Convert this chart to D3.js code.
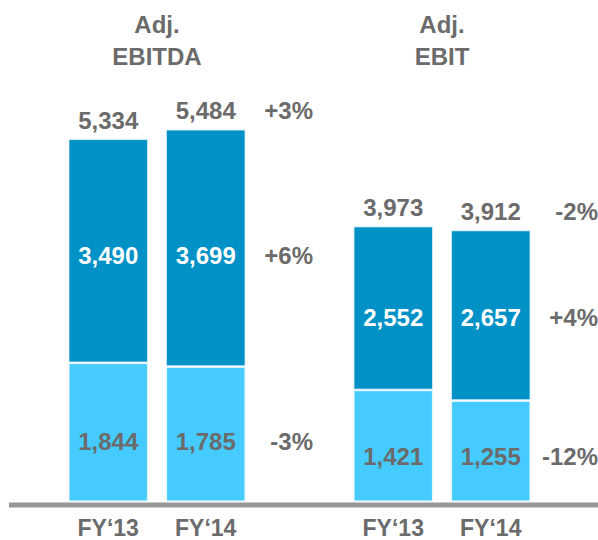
<!DOCTYPE html>
<html>
<head>
<meta charset="utf-8">
<script src="https://cdn.jsdelivr.net/npm/d3@7"></script>
<style>
  body { margin: 0; background: #fff; }
  svg { display: block; font-family: "Liberation Sans", Arial, sans-serif; font-weight: bold; }
</style>
</head>
<body>
<div id="chart"></div>
<script>
// values (EUR m)
var groups = ['EBITDA', 'EBIT'],
    groupTitles = [['Adj.', 'EBITDA'], ['Adj.', 'EBIT']],
    years = ['FY‘13', 'FY‘14'],
    baseValues = [[1844, 1785], [1421, 1255]],   // light part
    topValues = [[3490, 3699], [2552, 2657]],    // dark part
    totals = [[5334, 5484], [3973, 3912]],
    changeTotal = ['+3%', '-2%'],
    changeTop = ['+6%', '+4%'],
    changeBase = ['-3%', '-12%'];

var width = 598, height = 540,
    dark = '#0091c7', light = '#45cbff', grey = '#6b6b6b';

var svg = d3.select('#chart').append('svg')
    .attr('width', width).attr('height', height);

// the slide's bars don't start at zero exactly, the axis floor sits a bit below
var y = d3.scaleLinear()
    .domain([-300, 5500])
    .range([501, 129]);

var x0 = d3.scaleBand()
    .domain(groups)
    .range([69, 530])
    .paddingInner(0.3825);

var x1 = d3.scaleBand()
    .domain(years)
    .range([0, x0.bandwidth()])
    .paddingInner(0.195);

var fmt = d3.format(',');

// baseline
svg.append('rect')
    .attr('x', 9).attr('y', y.range()[0] + 1.5)
    .attr('width', width - 9).attr('height', 5)
    .attr('fill', '#979797');

groups.forEach(function(g, gi) {
  var grp = svg.append('g').attr('transform', `translate(${x0(g)},0)`);
  var cx = x0.bandwidth() / 2;

  // title
  grp.selectAll('.title')
    .data(groupTitles[gi])
    .enter().append('text')
    .attr('x', cx)
    .attr('y', (d, i) => 33 + i * 31.5)
    .attr('text-anchor', 'middle')
    .attr('font-size', 24)
    .attr('fill', grey)
    .text(d => d);

  var rows = years.map(function(yr, i) {
    return {year: yr, base: baseValues[gi][i], top: topValues[gi][i], total: totals[gi][i]};
  });

  var bar = grp.selectAll('.bar')
    .data(rows)
    .enter().append('g').attr('class', 'bar')
    .attr('transform', d => `translate(${x1(d.year)},0)`);

  // light part
  bar.append('rect')
    .attr('x', 0)
    .attr('y', d => y(d.base))
    .attr('width', x1.bandwidth())
    .attr('height', d => y.range()[0] - y(d.base))
    .attr('fill', light)
    .attr('stroke', '#e4f6fe').attr('stroke-width', 1.2);

  // dark part
  bar.append('rect')
    .attr('x', 0)
    .attr('y', d => y(d.base + d.top))
    .attr('width', x1.bandwidth())
    .attr('height', d => y(d.base) - y(d.base + d.top) - 1.5)
    .attr('fill', dark)
    .attr('stroke', '#d8eef8').attr('stroke-width', 0.8);

  // total labels
  bar.append('text')
    .attr('x', x1.bandwidth() / 2)
    .attr('y', d => y(d.total) - 11)
    .attr('text-anchor', 'middle')
    .attr('font-size', 24)
    .attr('fill', grey)
    .text(d => fmt(d.total));

  // segment labels share a row inside each group
  var topRow = d3.mean(rows, d => (y(d.base) + y(d.base + d.top)) / 2) + 5,
      baseRow = d3.mean(rows, d => (y(d.base) + y.range()[0]) / 2) + 8;

  bar.append('text')
    .attr('x', x1.bandwidth() / 2)
    .attr('y', topRow)
    .attr('dy', '0.35em')
    .attr('text-anchor', 'middle')
    .attr('font-size', 24)
    .attr('fill', '#fff')
    .text(d => fmt(d.top));

  bar.append('text')
    .attr('x', x1.bandwidth() / 2)
    .attr('y', baseRow)
    .attr('dy', '0.35em')
    .attr('text-anchor', 'middle')
    .attr('font-size', 24)
    .attr('fill', grey)
    .text(d => fmt(d.base));

  // year labels
  bar.append('text')
    .attr('x', x1.bandwidth() / 2)
    .attr('y', 536)
    .attr('text-anchor', 'middle')
    .attr('font-size', 23)
    .attr('fill', grey)
    .text(d => d.year);

  // change labels, right aligned past the FY'14 bar
  var last = rows[rows.length - 1],
      px = x0.bandwidth() + 68;
  [[changeTotal[gi], y(last.total) - 11, 0],
   [changeTop[gi], topRow, 1],
   [changeBase[gi], baseRow, 1]].forEach(function(c) {
    grp.append('text')
      .attr('x', px)
      .attr('y', c[1])
      .attr('dy', c[2] ? '0.35em' : null)
      .attr('text-anchor', 'end')
      .attr('font-size', 24)
      .attr('fill', grey)
      .text(c[0]);
  });
});
</script>
</body>
</html>
